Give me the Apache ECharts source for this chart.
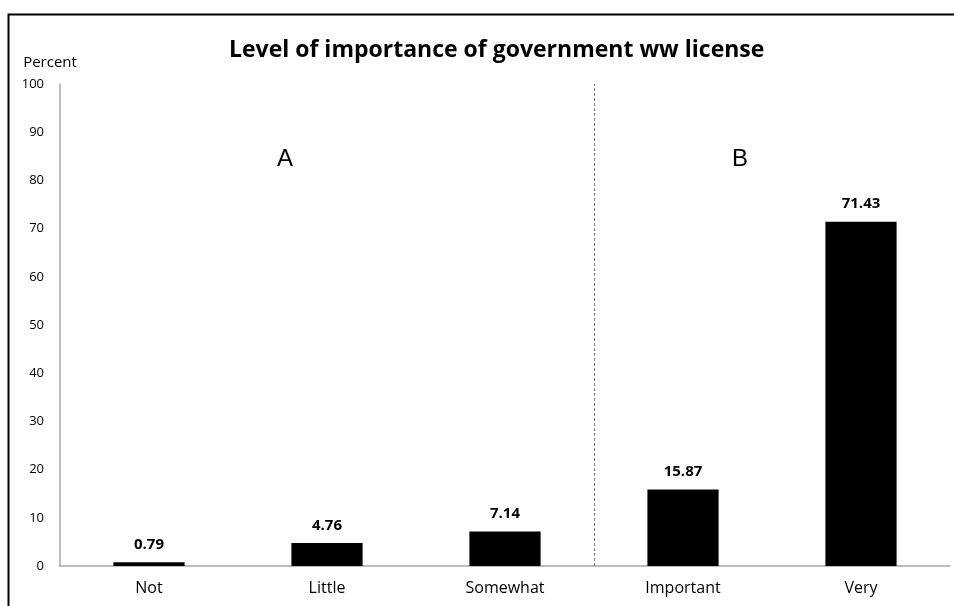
<!DOCTYPE html>
<html><head><meta charset="utf-8">
<script src="https://cdn.jsdelivr.net/npm/echarts@6/dist/echarts.min.js"></script>
<style>html,body{margin:0;padding:0;background:#fff}#c{width:954px;height:606px}</style>
</head><body><div id="c"></div>
<script>
const categories = ['Not', 'Little', 'Somewhat', 'Important', 'Very'];
const values = [0.79, 4.76, 7.14, 15.87, 71.43];
const yTicks = [0, 10, 20, 30, 40, 50, 60, 70, 80, 90, 100];
const groupLabels = ['A', 'B'];
const dividerPosition = 3; // boundary between the A and B groups (after 3 categories)

const chart = echarts.init(document.getElementById('c'));
chart.setOption({
  animation: false,
  backgroundColor: '#fff',
  title: {
    text: 'Level of importance of government ww license',
    left: 224, top: 34,
    textStyle: { fontFamily: 'Open Sans', fontWeight: 'bold', fontSize: 23, color: '#000' }
  },
  grid: { left: 60, right: 4, top: 84, bottom: 40 },
  xAxis: [{
    type: 'category', data: categories,
    axisLine: { lineStyle: { color: '#a6a6a6', width: 1.5 } },
    axisTick: { show: false },
    axisLabel: { color: '#000', fontFamily: 'Open Sans', fontSize: 16, margin: 14 }
  }, {
    type: 'value', min: 0, max: categories.length, show: false
  }],
  yAxis: {
    type: 'value', min: 0, max: 100, interval: 10,
    name: 'Percent', nameLocation: 'end', nameGap: 14,
    nameTextStyle: { color: '#000', fontFamily: 'Open Sans', fontSize: 15, align: 'center', padding: [0, 0, 0, -20] },
    axisLine: { show: true, lineStyle: { color: '#a6a6a6', width: 1.5 } },
    axisTick: { show: false },
    splitLine: { show: false },
    axisLabel: { color: '#000', fontFamily: 'Open Sans', fontSize: 13, margin: 16,
      formatter: v => yTicks.includes(v) ? String(v) : '' }
  },
  series: [{
    type: 'bar', data: values, barWidth: '40%',
    itemStyle: { color: '#000' },
    label: { show: true, position: 'top', distance: 10, color: '#000', fontFamily: 'Open Sans', fontWeight: 'bold', fontSize: 15,
      formatter: p => p.value.toFixed(2) }
  }, {
    type: 'line', xAxisIndex: 1, data: [], silent: true,
    markLine: {
      symbol: 'none', silent: true,
      lineStyle: { color: '#808080', type: [3, 2], width: 1 },
      label: { show: false },
      data: [{ xAxis: dividerPosition }]
    }
  }],
  graphic: [
    { type: 'rect', left: 6, top: 12, shape: { width: 1000, height: 700 }, style: { fill: 'none', stroke: '#000', lineWidth: 2 }, silent: true },
    { type: 'text', left: 277, top: 147, style: { text: groupLabels[0], font: '24px "Liberation Sans"', fill: '#000' } },
    { type: 'text', left: 732, top: 147, style: { text: groupLabels[1], font: '24px "Liberation Sans"', fill: '#000' } }
  ]
});
</script></body></html>
